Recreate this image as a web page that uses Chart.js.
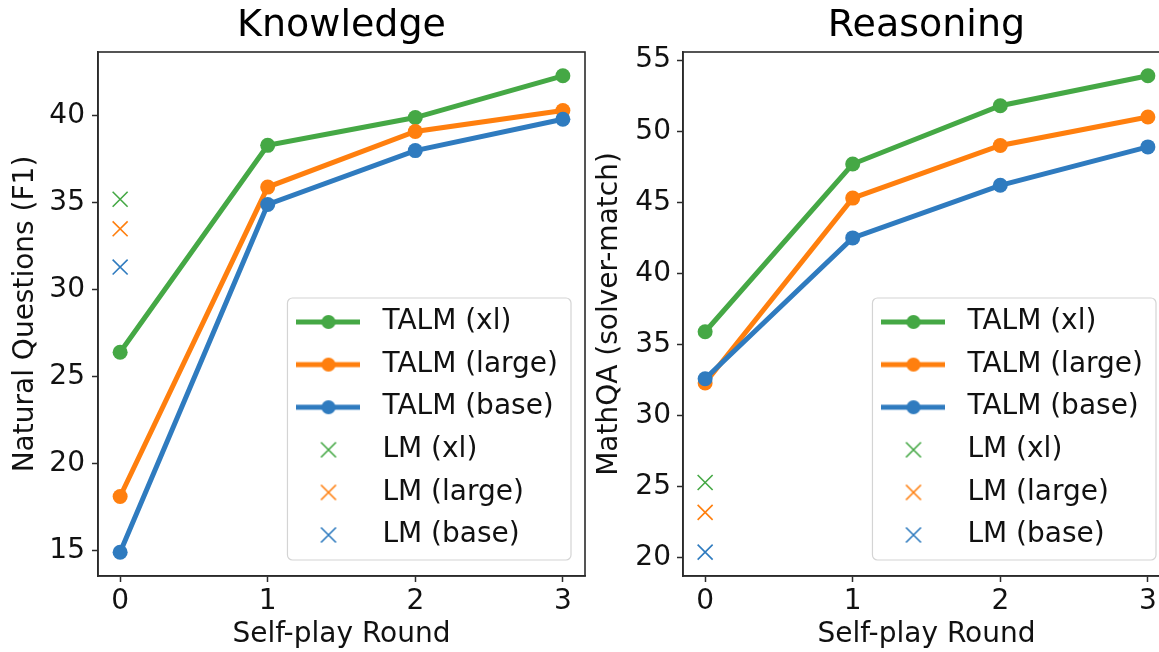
<!DOCTYPE html>
<html><head><meta charset="utf-8">
<script src="https://cdn.jsdelivr.net/npm/chart.js@4.4.1/dist/chart.umd.min.js"></script>
<style>
html,body{margin:0;padding:0;background:#fff;overflow:hidden;width:1159px;height:652px;}
#wrap{position:relative;width:1159px;height:652px;overflow:hidden;background:#fff;}
canvas{position:absolute;top:0;}
#c1{left:0;}
#c2{left:590px;}
</style></head><body>
<div id="wrap"><canvas id="c1" width="600" height="652"></canvas><canvas id="c2" width="600" height="652"></canvas></div>
<script>
// ---- data ----
const ROUNDS = [0, 1, 2, 3];
const TALM_NAMES = ['TALM (xl)', 'TALM (large)', 'TALM (base)'];
const LM_NAMES = ['LM (xl)', 'LM (large)', 'LM (base)'];
const NQ_XL = [26.4, 38.3, 39.9, 42.3];
const NQ_LARGE = [18.1, 35.9, 39.1, 40.3];
const NQ_BASE = [14.9, 34.9, 38.0, 39.8];
const NQ_LM = [35.2, 33.5, 31.3];
const MATH_XL = [35.9, 47.7, 51.8, 53.9];
const MATH_LARGE = [32.3, 45.3, 49.0, 51.0];
const MATH_BASE = [32.6, 42.5, 46.2, 48.9];
const MATH_LM = [25.3, 23.2, 20.4];
const NQ_TICKS = [15, 20, 25, 30, 35, 40];
const MATH_TICKS = [20, 25, 30, 35, 40, 45, 50, 55];
const X_TICKS = [0, 1, 2, 3];

// ---- style ----
const COLORS = ['#45a845', '#ff7f0e', '#2f7bbf'];
const FONT = '"DejaVu Sans", "Liberation Sans", sans-serif';
const AX = '#2b2b2b';
const TXT = '#111111';

function makeIcon(color, kind) {
  const c = document.createElement('canvas');
  if (kind === 'line') {
    c.width = 64; c.height = 20;
    const g = c.getContext('2d');
    g.strokeStyle = color; g.lineWidth = 5;
    g.beginPath(); g.moveTo(0, 10); g.lineTo(64, 10); g.stroke();
    g.fillStyle = color; g.beginPath(); g.arc(32, 10, 7, 0, Math.PI * 2); g.fill();
  } else {
    c.width = 20; c.height = 20;
    const g = c.getContext('2d');
    g.strokeStyle = color; g.lineWidth = 1.6;
    g.beginPath(); g.moveTo(2.5, 2.5); g.lineTo(17.5, 17.5); g.moveTo(17.5, 2.5); g.lineTo(2.5, 17.5); g.stroke();
  }
  return c;
}

const layoutPlugin = {
  id: 'layoutPlugin',
  afterUpdate(chart) {
    const lg = chart.legend, ca = chart.chartArea;
    if (!lg) return;
    const pad = lg.options.labels.padding;
    const ctx = chart.ctx;
    ctx.save();
    ctx.font = '28px ' + FONT;
    let tw = 0;
    for (const it of lg.legendItems) tw = Math.max(tw, ctx.measureText(it.text).width);
    ctx.restore();
    const fw = tw + 108, fh = 262;
    const fr = ca.right - 14, fb = ca.bottom - 16;
    const fl = fr - fw, ft = fb - fh;
    chart.$frame = {fl, ft, fw, fh};
    lg.left = fl + 1 - pad;
    lg.top = ft + 10 - pad;
    lg.width = fw;
    lg.right = lg.left + fw;
    lg.bottom = chart.height;
    lg.height = lg.bottom - lg.top;
    lg.adjustHitBoxes();
  },
  beforeDraw(chart) {
    const f = chart.$frame;
    if (!f) return;
    const ctx = chart.ctx;
    ctx.save();
    ctx.fillStyle = 'rgba(255,255,255,0.9)';
    ctx.strokeStyle = '#d4d4d4';
    ctx.lineWidth = 1.2;
    ctx.beginPath();
    if (ctx.roundRect) ctx.roundRect(f.fl, f.ft, f.fw, f.fh, 5); else ctx.rect(f.fl, f.ft, f.fw, f.fh);
    ctx.fill(); ctx.stroke();
    ctx.restore();
  },
  afterDraw(chart) {
    const ca = chart.chartArea, ctx = chart.ctx;
    ctx.save();
    ctx.strokeStyle = AX; ctx.lineWidth = 1.6;
    ctx.strokeRect(ca.left, ca.top, ca.right - ca.left, ca.bottom - ca.top);
    ctx.restore();
  }
};

function buildChart(id, title, yTitle, series, lm, yTicks, cfg) {
  const all = series.flat().concat(lm);
  const lo = Math.min(...all), hi = Math.max(...all);
  const m = (hi - lo) * 0.05;
  const datasets = [];
  const orders = [2, 1, 0];
  series.forEach((vals, k) => {
    datasets.push({
      label: TALM_NAMES[k],
      data: ROUNDS.map((r, i) => ({x: r, y: vals[i]})),
      borderColor: COLORS[k], backgroundColor: COLORS[k],
      borderWidth: 5, pointRadius: 7.5, pointHoverRadius: 7.5,
      pointBackgroundColor: COLORS[k], pointBorderWidth: 0,
      tension: 0, fill: false, order: orders[k],
      legendIcon: makeIcon(COLORS[k], 'line')
    });
  });
  lm.forEach((v, k) => {
    datasets.push({
      label: LM_NAMES[k],
      data: [{x: ROUNDS[0], y: v}],
      showLine: false, pointStyle: 'crossRot',
      pointRadius: 10.6, pointHoverRadius: 10.6, pointBorderWidth: 1.6,
      borderColor: COLORS[k], backgroundColor: COLORS[k], order: 3,
      legendIcon: makeIcon(COLORS[k], 'x')
    });
  });
  const font = {family: FONT, size: 28};
  return new Chart(document.getElementById(id), {
    type: 'line',
    data: {datasets},
    plugins: [layoutPlugin],
    options: {
      responsive: false, animation: false, devicePixelRatio: 1, events: [],
      layout: {padding: {left: 0, right: cfg.rightPad, top: 0, bottom: 0}},
      scales: {
        x: {
          type: 'linear', min: -0.15, max: 3.15,
          afterBuildTicks: s => { s.ticks = X_TICKS.map(v => ({value: v})); },
          afterFit: s => { s.height = 76; },
          ticks: {font, color: TXT, padding: 3, maxRotation: 0, autoSkip: false, callback: v => String(v)},
          grid: {drawOnChartArea: false, drawTicks: true, tickLength: 6, tickColor: AX, tickWidth: 1.5},
          border: {display: true, color: AX, width: 1.6},
          title: {display: true, text: 'Self-play Round', font, color: TXT, padding: {top: 0, bottom: 0}}
        },
        y: {
          type: 'linear', min: lo - m, max: hi + m,
          afterBuildTicks: s => { s.ticks = yTicks.map(v => ({value: v})); },
          afterFit: s => { s.width = cfg.yWidth; },
          ticks: {font, color: TXT, padding: cfg.tickPad, autoSkip: false, callback: v => String(v)},
          grid: {drawOnChartArea: false, drawTicks: true, tickLength: 6, tickColor: AX, tickWidth: 1.5},
          border: {display: true, color: AX, width: 1.6},
          title: {display: true, text: yTitle, font, color: TXT, padding: {top: cfg.yTitlePad, bottom: 0}}
        }
      },
      plugins: {
        title: {display: true, text: title, fullSize: false, color: '#000',
                font: {family: FONT, size: 38, weight: 'normal'}, padding: {top: 3.3, bottom: 3.1}},
        tooltip: {enabled: false},
        legend: {
          display: true, position: 'chartArea', align: 'start',
          labels: {
            font, color: TXT, padding: 14.6, usePointStyle: true, pointStyleWidth: 80,
            generateLabels: chart => chart.data.datasets.map((ds, i) => ({
              text: ds.label, pointStyle: ds.legendIcon, fillStyle: ds.borderColor,
              strokeStyle: ds.borderColor, lineWidth: 0, hidden: false, datasetIndex: i, fontColor: TXT
            }))
          }
        }
      }
    }
  });
}

buildChart('c1', 'Knowledge', 'Natural Questions (F1)', [NQ_XL, NQ_LARGE, NQ_BASE], NQ_LM, NQ_TICKS,
  {yWidth: 98, rightPad: 15, tickPad: 7, yTitlePad: 8.5});
buildChart('c2', 'Reasoning', 'MathQA (solver-match)', [MATH_XL, MATH_LARGE, MATH_BASE], MATH_LM, MATH_TICKS,
  {yWidth: 93, rightPad: 20, tickPad: 6, yTitlePad: 2.5});
</script>
</body></html>
